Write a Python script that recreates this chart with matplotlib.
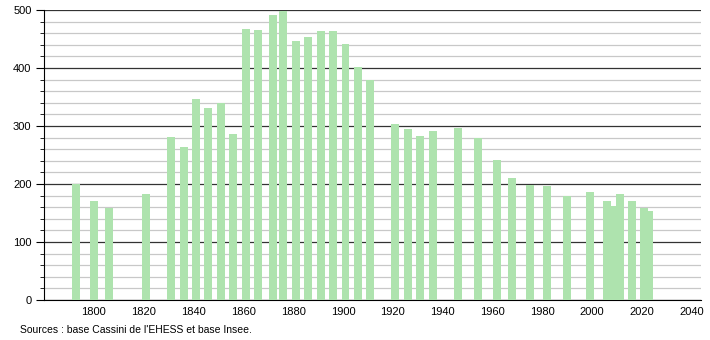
import matplotlib
matplotlib.use('Agg')
import matplotlib.pyplot as plt
from matplotlib.ticker import MultipleLocator

# Population par année de recensement
annees = [1793, 1800, 1806, 1821, 1831, 1836, 1841, 1846, 1851, 1856,
          1861, 1866, 1872, 1876, 1881, 1886, 1891, 1896, 1901, 1906,
          1911, 1921, 1926, 1931, 1936, 1946, 1954, 1962, 1968, 1975,
          1982, 1990, 1999, 2006, 2008, 2011, 2016, 2021, 2023]
population = [200, 171, 158, 183, 281, 264, 347, 331, 339, 286,
              468, 465, 491, 499, 446, 453, 464, 464, 441, 402,
              379, 303, 294, 282, 291, 297, 279, 241, 210, 199,
              196, 179, 186, 171, 162, 183, 171, 158, 154]
graduations_x = [1800, 1820, 1840, 1860, 1880, 1900, 1920, 1940, 1960, 1980, 2000, 2020, 2040]
source = "Sources : base Cassini de l'EHESS et base Insee."

plt.rcParams['font.family'] = ['Liberation Sans', 'DejaVu Sans']

fig = plt.figure(figsize=(7.1, 3.4), dpi=100)
ax = fig.add_axes([0.062, 0.1176, 0.925, 0.853])

ax.bar(annees, population, width=3.2, color='#aee3ae', zorder=3)

ax.set_xlim(1780, 2043.6)
ax.set_ylim(0, 500)
ax.set_xticks(graduations_x)
ax.yaxis.set_major_locator(MultipleLocator(100))
ax.yaxis.set_minor_locator(MultipleLocator(20))

ax.grid(axis='y', which='major', color='#333333', linewidth=0.9, zorder=1)
ax.grid(axis='y', which='minor', color='#c8c8c8', linewidth=0.9, zorder=1)

for s in ['top', 'right']:
    ax.spines[s].set_visible(False)
ax.spines['left'].set_color('black')
ax.spines['bottom'].set_color('black')

ax.tick_params(axis='x', length=0, labelsize=8, pad=5)
ax.tick_params(axis='y', which='major', length=6, direction='out', labelsize=8, pad=3)
ax.tick_params(axis='y', which='minor', length=3, direction='out')

fig.text(0.028, 0.03, source, fontsize=7.5, ha='left', va='center')

plt.savefig('out.png', dpi=100)
